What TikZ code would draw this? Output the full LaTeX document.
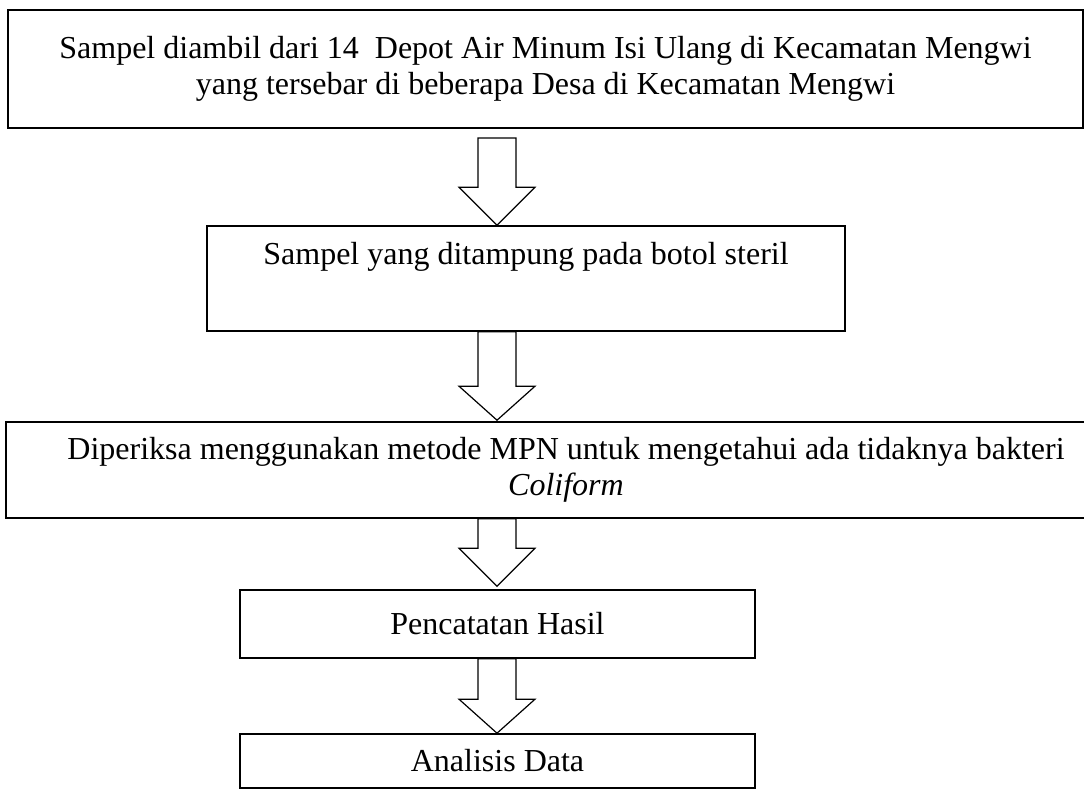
\documentclass[tikz,border=0pt]{standalone}
\usepackage{fontspec}
\setmainfont{Liberation Serif}
\usetikzlibrary{calc}
\tikzset{
  box/.style={draw=black, line width=0.6pt, rectangle, inner sep=0pt, align=center, font=\fontsize{12}{13.5}\selectfont},
  arrowline/.style={draw=black, line width=0.45pt, fill=white, line join=miter},
}
\newcommand\blockarr[3]{%
  \draw[arrowline] ($(#1)+(-19,0)$) -- ($(#2)+(-19,-#3)$) -- ($(#2)+(-38,-#3)$) -- (#2)
    -- ($(#2)+(38,-#3)$) -- ($(#2)+(19,-#3)$) -- ($(#1)+(19,0)$) -- cycle;}
\begin{document}
\begin{tikzpicture}[x=0.375pt, y=-0.375pt]
\useasboundingbox (0,0) rectangle (1084,792);
\node[box, minimum width=1075*0.375pt, minimum height=118*0.375pt] (b1) at (545.5,69)
  {Sampel diambil dari 14\ \ Depot Air Minum Isi Ulang di Kecamatan Mengwi\\yang tersebar di beberapa Desa di Kecamatan Mengwi};
\node[box, minimum width=638*0.375pt, minimum height=105*0.375pt] (b2) at (526,278.5) {};
\node[font=\fontsize{12}{13.5}\selectfont, inner sep=0pt] (t2) at (526,257) {Sampel yang ditampung pada botol steril};
\node[box, minimum width=1120*0.375pt, minimum height=96*0.375pt] (b3) at (566,470)
  {Diperiksa menggunakan metode MPN untuk mengetahui ada tidaknya bakteri\\\textit{Coliform}};
\node[box, minimum width=515*0.375pt, minimum height=68*0.375pt] (b4) at (497.5,624) {Pencatatan Hasil};
\node[box, minimum width=515*0.375pt, minimum height=54*0.375pt] (b5) at (497.5,761) {Analisis Data};
\coordinate (a1s) at (497,138);
\coordinate (a1e) at (b2.north -| a1s);
\coordinate (a2s) at (b2.south -| a1s);
\coordinate (a2e) at ($(b3.north -| a1s)+(0,-1)$);
\coordinate (a3s) at (b3.south -| a1s);
\coordinate (a3e) at ($(b4.north -| a1s)+(0,-3)$);
\coordinate (a4s) at (b4.south -| a1s);
\coordinate (a4e) at (b5.north -| a1s);
\blockarr{a1s}{a1e}{38}
\blockarr{a2s}{a2e}{34}
\blockarr{a3s}{a3e}{38}
\blockarr{a4s}{a4e}{34}
\end{tikzpicture}
\end{document}
